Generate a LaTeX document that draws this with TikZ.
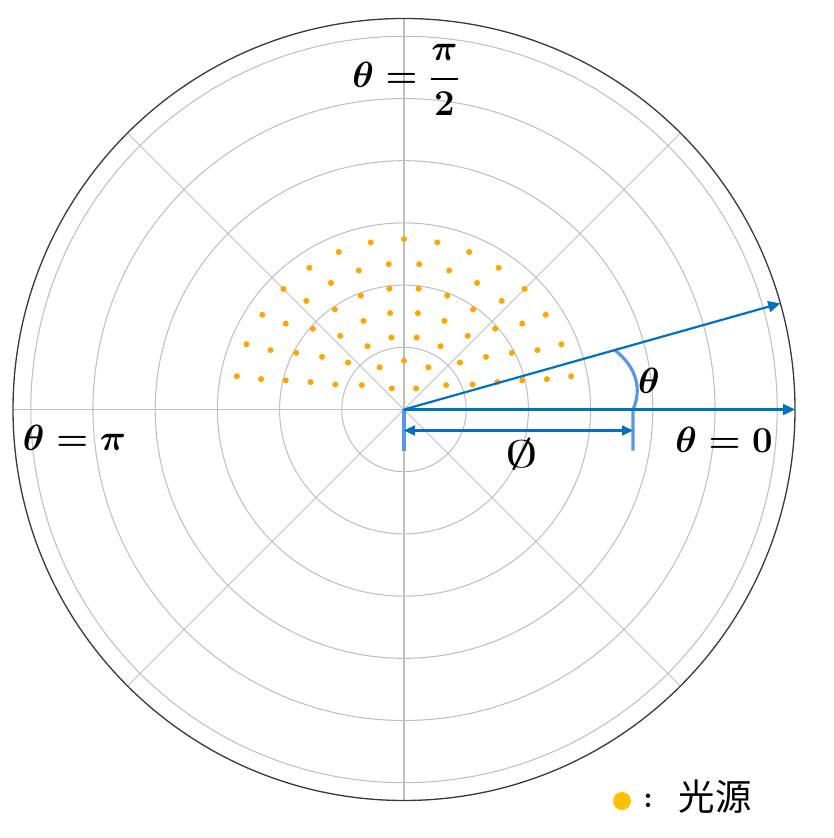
\documentclass[tikz,border=0pt]{standalone}
\usepackage{amsmath,amssymb}
\usepackage{fontspec}
\usetikzlibrary{arrows.meta}
\newfontfamily\cjkfont{Noto Sans CJK SC}
\definecolor{PLGrid}{HTML}{BFBFBF}
\definecolor{PLRim}{HTML}{3A3A3A}
\definecolor{PLBlue}{HTML}{0070C0}
\definecolor{PLLight}{HTML}{5B96E0}
\definecolor{PLSource}{HTML}{FFA500}
\definecolor{PLLegend}{HTML}{FFC000}
\begin{document}
\begin{tikzpicture}[x=.02cm,y=.02cm,
    grid/.style={PLGrid,line width=.6pt},
    rim/.style={PLRim,line width=.75pt},
    ray/.style={-{Triangle[length=.24cm,width=.22cm]},PLBlue,line width=1.25pt},
    span/.style={{Triangle[length=.22cm,width=.2cm]}-{Triangle[length=.22cm,width=.2cm]},PLBlue,line width=1.25pt},
    tickline/.style={PLLight,line width=1.8pt},
    source/.style={fill=PLSource},
    lbl/.style={font=\huge\boldmath}
  ]
  \useasboundingbox (-404,-428.5) rectangle (429,409.5);
  \coordinate (O) at (0,0);
  \foreach \r in {1,...,6}
    \draw[grid] (O) circle[radius=62.2*\r];
  \foreach \a in {0,45,...,315}
    \draw[grid] (O) -- (\a:391);
  \draw[rim] (O) circle[radius=391];
  \foreach \k/\n in {1/2,2/5,3/8,4/10,5/12,6/14,7/15}
    \foreach \j in {1,...,\n}
      \fill[source] ({\j*180/(\n+1)}:{24.35*\k}) circle[radius=3];
  \coordinate (rayend) at (15.75:391);
  \coordinate (axisend) at (391,0);
  \coordinate (phiL) at (0,-41);
  \coordinate (phiR) at (229,-41);
  \coordinate (arcA) at (229,0);
  \coordinate (arcB) at (15.75:219);
  \coordinate (spanL) at (0,-21);
  \coordinate (spanR) at (229,-21);
  \draw[tickline] (O) -- (phiL);
  \draw[tickline] (phiR) -- (arcA) .. controls (238,20) and (233,42) .. (arcB);
  \draw[ray] (O) -- (axisend);
  \draw[ray] (O) -- (rayend);
  \draw[span] (spanL) -- (spanR);
  \node[lbl] (halfpi) at (2,329.5) {$\theta=\dfrac{\pi}{2}$};
  \node[lbl] (pi) at (-329.5,-28) {$\theta=\pi$};
  \node[lbl] (zero) at (320,-30) {$\theta=0$};
  \node[lbl] (angle) at (245,29) {$\theta$};
  \node[font=\huge] (diam) at (117.5,-45) {\scalebox{1.8}[1.05]{$\emptyset$}};
  \node[circle,fill=PLLegend,inner sep=0pt,minimum size=.36cm] (key) at (218,-391.5) {};
  \node[font=\LARGE\bfseries] (colon) at (244,-391) {:};
  \node[font=\huge\cjkfont] (keytext) at (311,-387.5) {光源};
\end{tikzpicture}
\end{document}
